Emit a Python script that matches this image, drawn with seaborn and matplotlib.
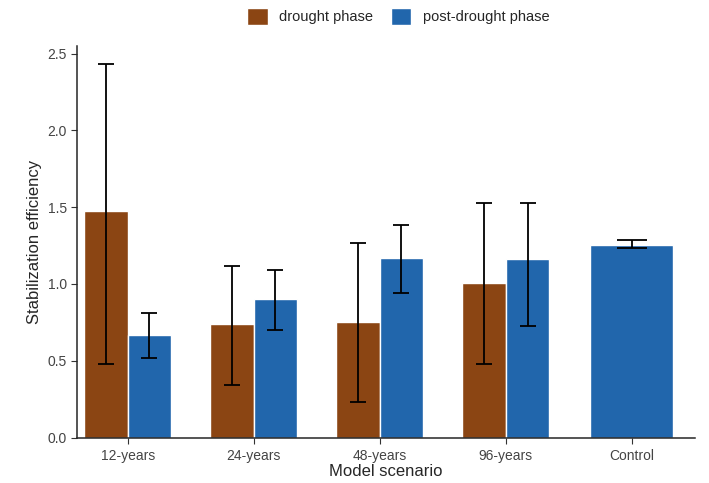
import numpy as np
import pandas as pd
import matplotlib.pyplot as plt
import seaborn as sns

sns.set_style("ticks")
plt.rcParams['font.family'] = ['Liberation Sans', 'DejaVu Sans']

# Data
scenarios = ['12-years', '24-years', '48-years', '96-years', 'Control']
phases = ['drought phase', 'post-drought phase']

drought_mean = [1.475, 0.74, 0.75, 1.005]
drought_lo = [0.477, 0.34, 0.23, 0.477]
drought_hi = [2.43, 1.12, 1.265, 1.53]

post_mean = [0.67, 0.90, 1.172, 1.165]
post_lo = [0.515, 0.70, 0.94, 0.728]
post_hi = [0.81, 1.09, 1.385, 1.528]

control_mean = [1.256]
control_lo = [1.237]
control_hi = [1.288]

colors = {'drought phase': '#8B4513', 'post-drought phase': '#2166AC'}

df = pd.DataFrame({
    'scenario': scenarios[:4] * 2,
    'phase': [phases[0]] * 4 + [phases[1]] * 4,
    'value': drought_mean + post_mean,
    'lo': drought_lo + post_lo,
    'hi': drought_hi + post_hi,
})
df_ctrl = pd.DataFrame({'scenario': ['Control'], 'value': control_mean,
                        'lo': control_lo, 'hi': control_hi})

fig, ax = plt.subplots(figsize=(7.09, 4.83), dpi=100)

sns.barplot(data=df, x='scenario', y='value', hue='phase', order=scenarios,
            hue_order=phases, palette=colors, width=0.69, errorbar=None,
            saturation=1, edgecolor='white', linewidth=1, ax=ax)
sns.barplot(data=df_ctrl, x='scenario', y='value', order=scenarios,
            color=colors['post-drought phase'], width=0.66, errorbar=None,
            saturation=1, edgecolor='white', linewidth=1, ax=ax)

# error bars at the bar centres
off = 0.69 / 4
for i, s in enumerate(scenarios[:4]):
    for j, p in enumerate(phases):
        r = df[(df.scenario == s) & (df.phase == p)].iloc[0]
        x = i + (-off if j == 0 else off)
        ax.errorbar(x, r.value, yerr=[[r.value - r.lo], [r.hi - r.value]],
                    fmt='none', ecolor='black', elinewidth=1.3, capsize=6,
                    capthick=1.3)
r = df_ctrl.iloc[0]
ax.errorbar(4, r.value, yerr=[[r.value - r.lo], [r.hi - r.value]],
            fmt='none', ecolor='black', elinewidth=1.3, capsize=11, capthick=1.3)

ax.set_xlim(-0.4, 4.5)
ax.set_ylim(0, 2.55)
ax.set_yticks([0, 0.5, 1.0, 1.5, 2.0, 2.5])
ax.set_xlabel('Model scenario', fontsize=12, labelpad=1)
ax.set_ylabel('Stabilization efficiency', fontsize=12)
ax.tick_params(axis='both', labelsize=10, colors='#333333', length=4)
ax.tick_params(axis='x', pad=4)
ax.tick_params(axis='both', labelcolor='#444444')
sns.despine(ax=ax)
for sp in ['left', 'bottom']:
    ax.spines[sp].set_linewidth(1.1)

h, l = ax.get_legend_handles_labels()
ax.legend(h[:2], l[:2], loc='upper center', bbox_to_anchor=(0.52, 1.13),
          ncol=2, frameon=False, fontsize=10.5, handlelength=1.4,
          handleheight=1.4, columnspacing=1.2)

plt.subplots_adjust(left=0.109, right=0.98, top=0.905, bottom=0.094)
plt.savefig('out.png', dpi=100)
